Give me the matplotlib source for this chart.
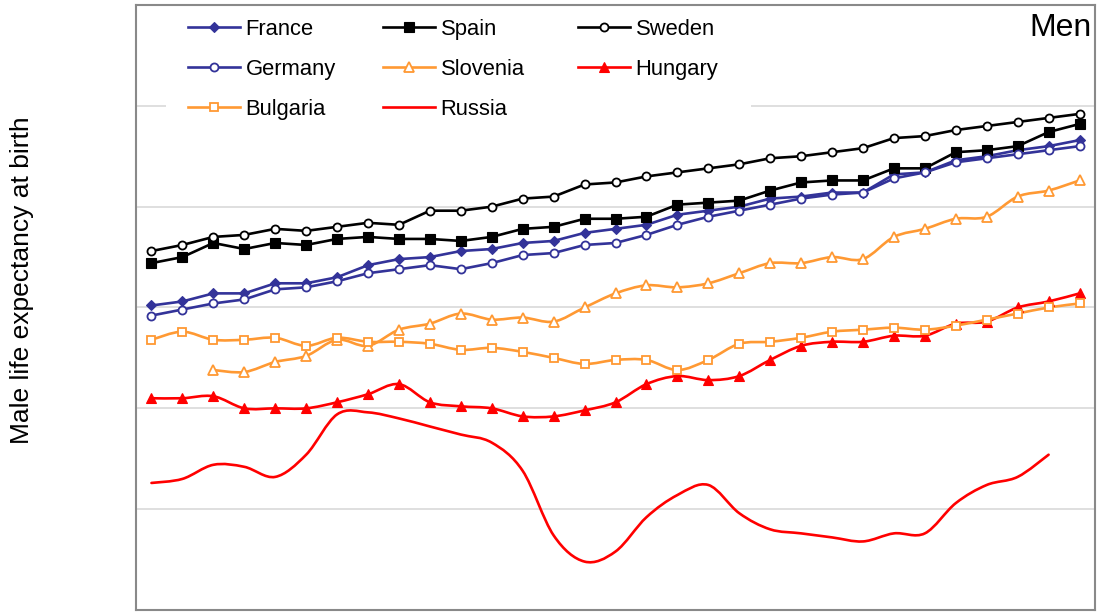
import numpy as np
import matplotlib
matplotlib.use("Agg")
import matplotlib.pyplot as plt
from matplotlib.path import Path
from matplotlib.patches import PathPatch
from matplotlib.lines import Line2D

plt.rcParams['font.family'] = ['Liberation Sans', 'DejaVu Sans']

years = list(range(1980, 2011))

france = [70.1, 70.3, 70.7, 70.7, 71.2, 71.2, 71.5, 72.1, 72.4, 72.5,
          72.8, 72.9, 73.2, 73.3, 73.7, 73.9, 74.1, 74.6, 74.8, 75.0,
          75.4, 75.5, 75.7, 75.7, 76.6, 76.7, 77.3, 77.5, 77.8, 78.0, 78.3]
germany = [69.6, 69.9, 70.2, 70.4, 70.9, 71.0, 71.3, 71.7, 71.9, 72.1,
           71.9, 72.2, 72.6, 72.7, 73.1, 73.2, 73.6, 74.1, 74.5, 74.8,
           75.1, 75.4, 75.6, 75.7, 76.4, 76.7, 77.2, 77.4, 77.6, 77.8, 78.0]
spain = [72.2, 72.5, 73.2, 72.9, 73.2, 73.1, 73.4, 73.5, 73.4, 73.4,
         73.3, 73.5, 73.9, 74.0, 74.4, 74.4, 74.5, 75.1, 75.2, 75.3,
         75.8, 76.2, 76.3, 76.3, 76.9, 76.9, 77.7, 77.8, 78.0, 78.7, 79.1]
sweden = [72.8, 73.1, 73.5, 73.6, 73.9, 73.8, 74.0, 74.2, 74.1, 74.8,
          74.8, 75.0, 75.4, 75.5, 76.1, 76.2, 76.5, 76.7, 76.9, 77.1,
          77.4, 77.5, 77.7, 77.9, 78.4, 78.5, 78.8, 79.0, 79.2, 79.4, 79.6]
slovenia = [None, None, 66.9, 66.8, 67.3, 67.6, 68.4, 68.1, 68.9, 69.2,
            69.7, 69.4, 69.5, 69.3, 70.0, 70.7, 71.1, 71.0, 71.2, 71.7,
            72.2, 72.2, 72.5, 72.4, 73.5, 73.9, 74.4, 74.5, 75.5, 75.8, 76.3]
bulgaria = [68.4, 68.8, 68.4, 68.4, 68.5, 68.1, 68.5, 68.3, 68.3, 68.2,
            67.9, 68.0, 67.8, 67.5, 67.2, 67.4, 67.4, 66.9, 67.4, 68.2,
            68.3, 68.5, 68.8, 68.9, 69.0, 68.9, 69.1, 69.4, 69.7, 70.0, 70.2]
hungary = [65.5, 65.5, 65.6, 65.0, 65.0, 65.0, 65.3, 65.7, 66.2, 65.3,
           65.1, 65.0, 64.6, 64.6, 64.9, 65.3, 66.2, 66.6, 66.4, 66.6,
           67.4, 68.1, 68.3, 68.3, 68.6, 68.6, 69.2, 69.3, 70.0, 70.3, 70.7]
russia = [61.3, 61.5, 62.2, 62.1, 61.6, 62.7, 64.7, 64.8, 64.5, 64.1,
          63.7, 63.3, 61.9, 58.7, 57.4, 57.9, 59.6, 60.7, 61.2, 59.8,
          59.0, 58.8, 58.6, 58.4, 58.8, 58.8, 60.3, 61.2, 61.6, 62.7, None]

NAVY = '#333399'
ORANGE = '#FF9933'
RED = '#FF0000'
BLACK = '#000000'
LW = 1.9

# name, values, colour, marker, size, filled, smoothed
series = [
    ('France', france, NAVY, 'D', 5.2, True, False),
    ('Spain', spain, BLACK, 's', 6.8, True, False),
    ('Sweden', sweden, BLACK, 'o', 5.8, False, False),
    ('Germany', germany, NAVY, 'o', 5.8, False, False),
    ('Slovenia', slovenia, ORANGE, '^', 6.8, False, True),
    ('Hungary', hungary, RED, '^', 7.2, True, True),
    ('Bulgaria', bulgaria, ORANGE, 's', 5.8, False, True),
    ('Russia', russia, RED, None, 0, True, True),
]


def smooth_path(xs, ys):
    """Cubic Bezier path through the points (Catmull-Rom style tangents)."""
    pts = np.column_stack([xs, ys]).astype(float)
    n = len(pts)
    verts = [pts[0]]
    codes = [Path.MOVETO]
    for i in range(n - 1):
        p0 = pts[i - 1] if i > 0 else pts[i]
        p1 = pts[i]
        p2 = pts[i + 1]
        p3 = pts[i + 2] if i + 2 < n else pts[i + 1]
        verts += [p1 + (p2 - p0) / 6.0, p2 - (p3 - p1) / 6.0, p2]
        codes += [Path.CURVE4] * 3
    return Path(verts, codes)


fig = plt.figure(figsize=(10.99, 6.12), dpi=100)
ax = fig.add_axes([136 / 1099, 2 / 612, (1095 - 136) / 1099, (610 - 5) / 612])

handles = {}
for name, vals, color, marker, ms, filled, smooth in series:
    xs = np.array([y for y, v in zip(years, vals) if v is not None], dtype=float)
    ys = np.array([v for v in vals if v is not None], dtype=float)
    face = color if filled else 'white'
    mew = 0.8 if filled else 1.3
    if smooth:
        ax.add_patch(PathPatch(smooth_path(xs, ys), facecolor='none', edgecolor=color,
                               lw=LW, capstyle='round', joinstyle='round', zorder=2))
        if marker:
            ax.plot(xs, ys, linestyle='none', marker=marker, ms=ms, mfc=face,
                    mec=color, mew=mew, zorder=3)
    else:
        ax.plot(xs, ys, color=color, lw=LW, marker=marker, ms=ms, mfc=face,
                mec=color, mew=mew, zorder=3, solid_joinstyle='round')
    handles[name] = Line2D([], [], color=color, lw=LW, marker=marker, ms=ms,
                           mfc=face, mec=color, mew=mew)

# an empty slot keeps the short last column as tall as the others
handles[' '] = Line2D([], [], linestyle='none', marker=None)

ax.set_xlim(1979.5, 2010.5)
ax.set_ylim(55, 85)
ax.set_yticks([60, 65, 70, 75, 80])
ax.yaxis.grid(True, color='#d9d9d9', lw=1.2)
ax.set_axisbelow(True)
ax.tick_params(left=False, labelleft=False, bottom=False, labelbottom=False)
for sp in ax.spines.values():
    sp.set_color('#898989')
    sp.set_linewidth(1.5)

# legend laid out as three equal-width columns
columns = [['France', 'Germany', 'Bulgaria'],
           ['Spain', 'Slovenia', 'Russia'],
           ['Sweden', 'Hungary', ' ']]
col_left = [166, 361, 556]
col_width = 195
for names, left in zip(columns, col_left):
    leg = ax.legend([handles[k] for k in names], names, loc='upper left',
                    bbox_to_anchor=(left / 1099, 1 + 3 / 612, col_width / 1099, 0),
                    bbox_transform=fig.transFigure, mode='expand',
                    fontsize=15.8, handlelength=2.36, handletextpad=0.27,
                    labelspacing=0.87, borderpad=1.0, borderaxespad=0,
                    frameon=True, fancybox=False, numpoints=1)
    leg.get_frame().set_edgecolor('none')
    leg.get_frame().set_facecolor('white')
    leg.get_frame().set_alpha(1)
    leg.set_zorder(2.4)
    ax.add_artist(leg)

fig.text(1092 / 1099, 1 - 28 / 612, 'Men', ha='right', va='center', fontsize=23)
fig.text(22 / 1099, 1 - 280 / 612, 'Male life expectancy at birth', rotation=90,
         ha='center', va='center', fontsize=19)

fig.savefig('out.png', dpi=100, facecolor='white')
